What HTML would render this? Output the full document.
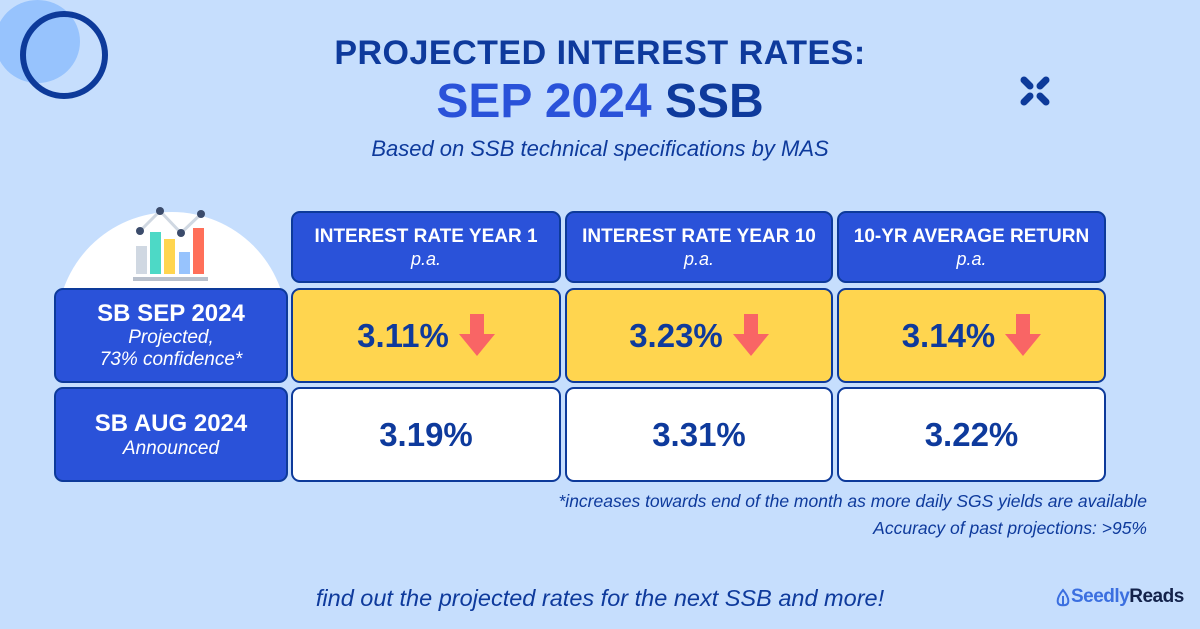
<!DOCTYPE html>
<html><head><meta charset="utf-8"><style>
*{margin:0;padding:0;box-sizing:border-box}
body{width:1200px;height:629px;background:#c6defd;position:relative;overflow:hidden;font-family:"Liberation Sans",sans-serif;color:#0e3a9c}
.a{position:absolute}
.c{position:absolute;border:2px solid #0d3a9a;border-radius:9px;display:flex;flex-direction:column;align-items:center;justify-content:center;text-align:center}
.h{background:#2a52d9;color:#fff;font-weight:bold;font-size:19px;line-height:24px}
.h i{font-weight:normal;font-size:18px;line-height:20px}
.y{background:#ffd54f;font-weight:bold;font-size:33px;flex-direction:row}
.w{background:#fff;font-weight:bold;font-size:33px}
.arr{display:inline-block;margin-left:10px;width:36px;height:44px;position:relative}
.arr:before{content:"";position:absolute;left:11px;top:0;width:14px;height:22px;background:#f96565}
.arr:after{content:"";position:absolute;left:0;top:20px;border-left:18px solid transparent;border-right:18px solid transparent;border-top:22px solid #f96565}
</style></head><body>
<div class="a" style="left:-5px;top:0;width:85px;height:83px;border-radius:50%;background:#97c3fd"></div>
<div class="a" style="left:20px;top:11px;width:88px;height:88px;border-radius:50%;border:6px solid #0d3a9a"></div>
<svg class="a" style="left:1018px;top:74px" width="34" height="34"><g stroke="#0d3a9a" stroke-width="7" stroke-linecap="round"><line x1="6" y1="6" x2="12" y2="12"/><line x1="28" y1="6" x2="22" y2="12"/><line x1="6" y1="28" x2="12" y2="22"/><line x1="28" y1="28" x2="22" y2="22"/></g></svg>
<div class="a" style="left:0;width:1200px;top:34px;text-align:center;font-weight:bold;font-size:34px;letter-spacing:0.5px">PROJECTED INTEREST RATES:</div>
<div class="a" style="left:0;width:1200px;top:74px;text-align:center;font-weight:bold;font-size:48px"><span style="color:#2a52d9">SEP 2024</span> SSB</div>
<div class="a" style="left:0;width:1200px;top:136px;text-align:center;font-style:italic;font-size:22px">Based on SSB technical specifications by MAS</div>
<div class="a" style="left:57px;top:212px;width:230px;height:78px;overflow:hidden"><div style="width:230px;height:230px;border-radius:50%;background:#fff"></div></div>
<svg class="a" style="left:130px;top:205px" width="80" height="80">
<rect x="6" y="41" width="11" height="28" fill="#d0d8e2"/><rect x="20" y="27" width="11" height="42" fill="#4dd9c6"/><rect x="34" y="34" width="11" height="35" fill="#ffd54f"/><rect x="49" y="47" width="11" height="22" fill="#97c3fd"/><rect x="63" y="23" width="11" height="46" fill="#ff6f59"/>
<rect x="3" y="72" width="75" height="4" fill="#b8c0cc"/>
<polyline points="10,26 30,6 51,28 71,9" fill="none" stroke="#d0d8e2" stroke-width="3"/>
<g fill="#3b4b6b"><circle cx="10" cy="26" r="4"/><circle cx="30" cy="6" r="4"/><circle cx="51" cy="28" r="4"/><circle cx="71" cy="9" r="4"/></g></svg>
<div class="c h" style="left:291px;top:211px;width:270px;height:72px">INTEREST RATE YEAR 1<i>p.a.</i></div>
<div class="c h" style="left:565px;top:211px;width:268px;height:72px">INTEREST RATE YEAR 10<i>p.a.</i></div>
<div class="c h" style="left:837px;top:211px;width:269px;height:72px">10-YR AVERAGE RETURN<i>p.a.</i></div>
<div class="c h" style="left:54px;top:288px;width:234px;height:95px;font-size:24px;line-height:27px">SB SEP 2024<i style="font-size:19px;line-height:22px">Projected,<br>73% confidence*</i></div>
<div class="c h" style="left:54px;top:387px;width:234px;height:95px;font-size:24px;line-height:28px">SB AUG 2024<i style="font-size:19px;line-height:22px">Announced</i></div>
<div class="c y" style="left:291px;top:288px;width:270px;height:95px">3.11%<span class="arr"></span></div>
<div class="c y" style="left:565px;top:288px;width:268px;height:95px">3.23%<span class="arr"></span></div>
<div class="c y" style="left:837px;top:288px;width:269px;height:95px">3.14%<span class="arr"></span></div>
<div class="c w" style="left:291px;top:387px;width:270px;height:95px">3.19%</div>
<div class="c w" style="left:565px;top:387px;width:268px;height:95px">3.31%</div>
<div class="c w" style="left:837px;top:387px;width:269px;height:95px">3.22%</div>
<div class="a" style="right:53px;top:488px;text-align:right;font-style:italic;font-size:17.5px;line-height:27px">*increases towards end of the month as more daily SGS yields are available<br>Accuracy of past projections: &gt;95%</div>
<div class="a" style="left:0;width:1200px;top:585px;text-align:center;font-style:italic;font-size:23.5px">find out the projected rates for the next SSB and more!</div>
<svg class="a" style="left:1056px;top:588px" width="14" height="20"><path d="M7 2 C2 8 1 12 2 15 C3 18 11 18 12 15 C13 12 12 8 7 2Z M7 8 V18" fill="none" stroke="#3b6fe0" stroke-width="2"/></svg>
<div class="a" style="left:1071px;top:586px;font-weight:bold;font-size:19px;letter-spacing:-0.5px"><span style="color:#3b6fe0">Seedly</span><span style="color:#13224a">Reads</span></div>
</body></html>
